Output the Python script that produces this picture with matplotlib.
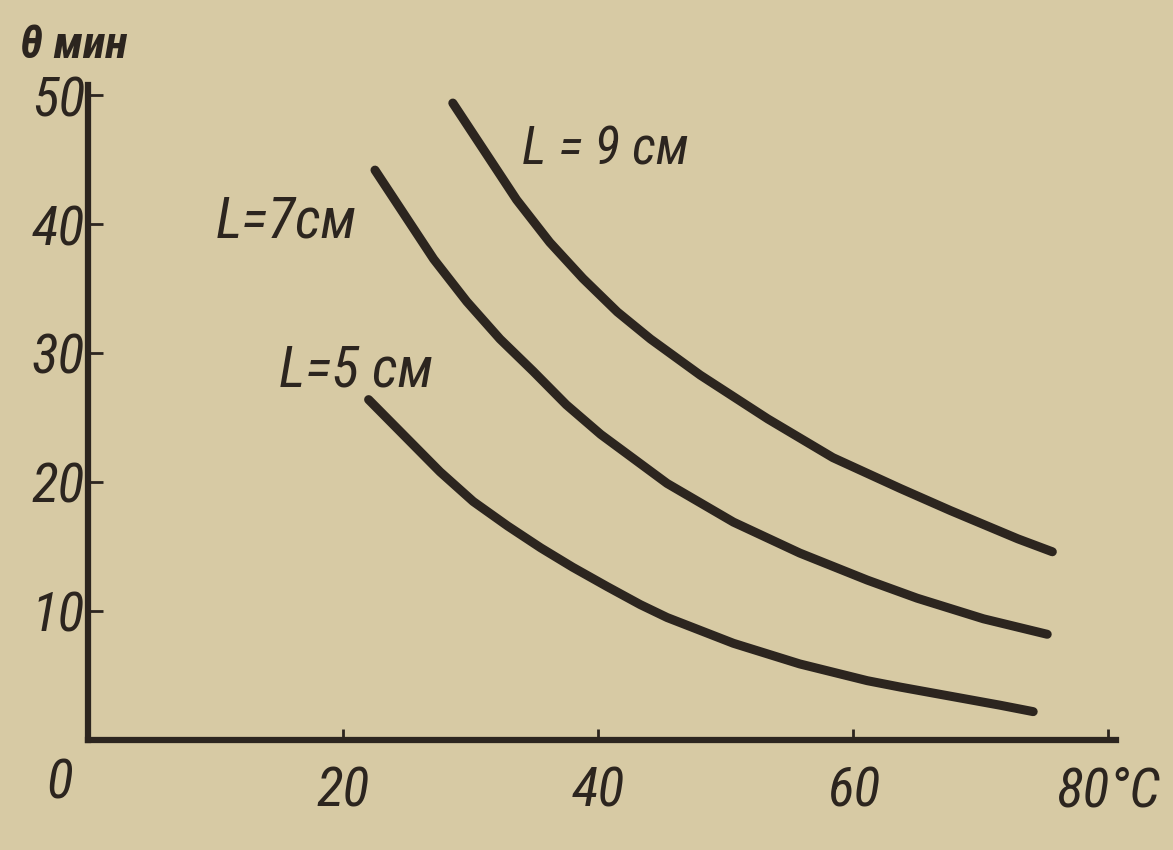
import matplotlib
matplotlib.use("Agg")
import matplotlib.pyplot as plt

# temperature, °C and time, min
x_9 = [28.6, 31.0, 33.6, 36.2, 38.8, 41.5, 44.1, 48.0, 53.3, 58.4, 63.7, 67.6, 72.9, 75.6]
y_9 = [49.4, 45.8, 41.9, 38.6, 35.8, 33.2, 31.1, 28.3, 24.9, 21.9, 19.5, 17.8, 15.6, 14.6]

x_7 = [22.5, 24.5, 27.1, 29.7, 32.3, 34.9, 37.5, 40.2, 45.4, 50.6, 55.8, 61.1, 65.0, 70.2, 75.2]
y_7 = [44.2, 41.2, 37.3, 34.0, 31.1, 28.6, 26.0, 23.7, 19.9, 16.9, 14.5, 12.4, 11.0, 9.4, 8.2]

x_5 = [22.0, 25.0, 27.6, 30.2, 32.9, 35.5, 38.0, 40.7, 43.3, 45.4, 50.6, 55.8, 61.1, 63.7, 71.5, 74.1]
y_5 = [26.4, 23.4, 20.8, 18.5, 16.6, 14.9, 13.4, 11.9, 10.5, 9.5, 7.5, 5.9, 4.6, 4.1, 2.7, 2.2]

x_ticks = [20, 40, 60, 80]
x_ticklabels = ["20", "40", "60", "80°C"]
y_ticks = [10, 20, 30, 40, 50]
y_ticklabels = ["10", "20", "30", "40", "50"]

paper = "#d7caa4"
ink = "#2c251f"
font = ["Roboto Condensed", "Liberation Sans Narrow", "DejaVu Sans"]

fig = plt.figure(figsize=(11.73, 8.5), dpi=100, facecolor=paper)
ax = fig.add_axes([0.075, 0.1294, 0.8765, 0.7706])
ax.set_facecolor(paper)

for xs, ys in [(x_9, y_9), (x_7, y_7), (x_5, y_5)]:
    ax.plot(xs, ys, color=ink, lw=6.5, solid_capstyle="round", solid_joinstyle="round")

ax.set_xlim(0, 80.6)
ax.set_ylim(0, 50.8)
for s in ["top", "right"]:
    ax.spines[s].set_visible(False)
for s in ["left", "bottom"]:
    ax.spines[s].set_linewidth(4.5)
    ax.spines[s].set_color(ink)
    ax.spines[s].set_capstyle("projecting")

ax.set_xticks(x_ticks)
ax.set_xticklabels(x_ticklabels)
ax.set_yticks(y_ticks)
ax.set_yticklabels(y_ticklabels)
ax.tick_params(axis="x", direction="in", length=8, width=2, color=ink, pad=18)
ax.tick_params(axis="y", direction="in", length=11, width=2, color=ink, pad=2)
for lab in ax.get_xticklabels() + ax.get_yticklabels():
    lab.set_family(font)
    lab.set_stretch("condensed")
    lab.set_style("italic")
    lab.set_fontsize(40)
    lab.set_color(ink)

txt = dict(family=font, stretch="condensed", style="italic", color=ink)
ax.text(-2.2, -1.3, "0", fontsize=40, ha="center", va="top", **txt)
ax.text(-5.3, 53.9, "θ мин", fontsize=33, weight="bold", ha="left", va="center",
        clip_on=False, **txt)

ax.text(34.0, 45.8, "L = 9 см", fontsize=38, ha="left", va="center", **txt)
ax.text(10.0, 40.2, "L=7см", fontsize=41, ha="left", va="center", **txt)
ax.text(15.0, 28.6, "L=5 см", fontsize=41, ha="left", va="center", **txt)

fig.savefig("out.png", dpi=100, facecolor=paper)
